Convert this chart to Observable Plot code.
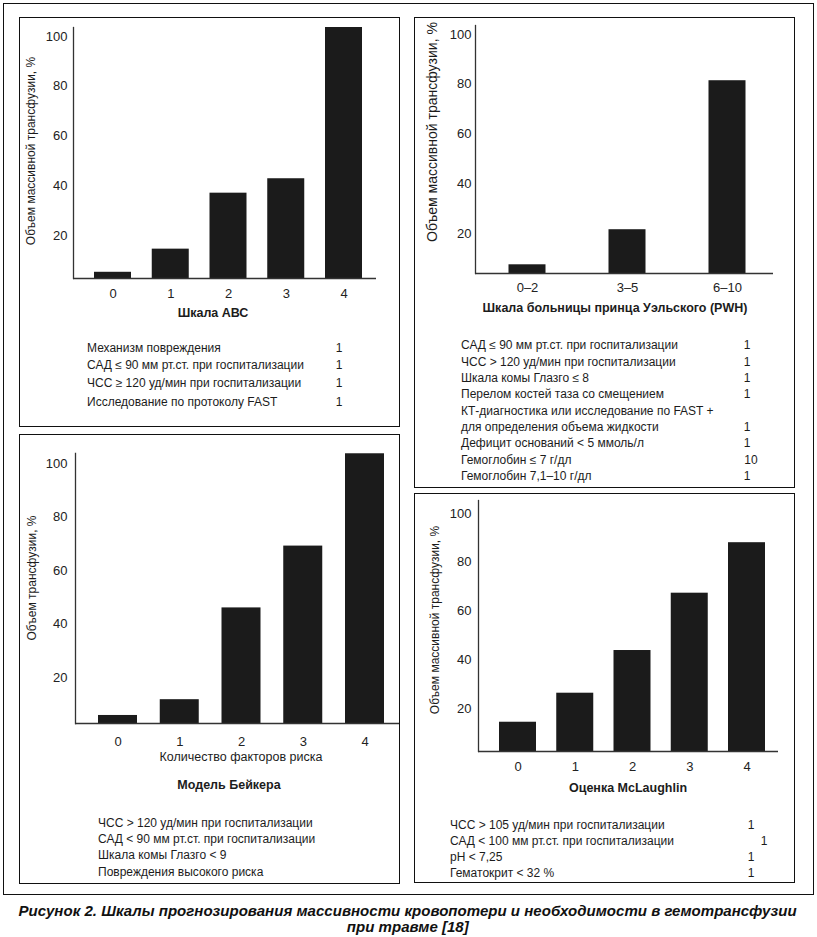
<!DOCTYPE html>
<html>
<head>
<meta charset="utf-8">
<script src="https://cdn.jsdelivr.net/npm/d3@7"></script>
<script src="https://cdn.jsdelivr.net/npm/@observablehq/plot@0.6"></script>
<style>
  html, body { margin: 0; padding: 0; background: #fff; }
  #page { position: relative; width: 817px; height: 937px; overflow: hidden;
          font-family: "Liberation Sans", Arial, sans-serif; color: #1c1c1c; }
  .box { position: absolute; border: 1.5px solid #111; box-sizing: border-box; }
  .plotwrap { position: absolute; }
  .t { position: absolute; white-space: nowrap; font-size: 12px; line-height: 1; transform: translateY(-50%); }
  .tc { position: absolute; white-space: nowrap; font-size: 12px; line-height: 1; transform: translate(-50%, -50%); }
  .b { font-weight: bold; }
  .yl { position: absolute; white-space: nowrap; font-size: 12px; line-height: 1; transform: translate(-50%, -50%) rotate(-90deg); }
  .cap { position: absolute; white-space: nowrap;
         font-family: "Liberation Sans", Arial, sans-serif;
         font-weight: bold; font-style: italic; font-size: 15.5px; line-height: 1; color: #111; }
</style>
</head>
<body>
<div id="page"></div>
<script>
// ---------- data ----------
const yTicks = [20, 40, 60, 80, 100];

const abcCategories = ["0", "1", "2", "3", "4"];
const abcValues = [5.2, 14.5, 37, 42.8, 103.6];

const pwhCategories = ["0–2", "3–5", "6–10"];
const pwhValues = [7.4, 21.5, 81.4];

const bakerCategories = ["0", "1", "2", "3", "4"];
const bakerValues = [5.8, 11.7, 46, 69.1, 103.6];

const mclCategories = ["0", "1", "2", "3", "4"];
const mclValues = [14.4, 26.3, 43.8, 67.3, 88];

const abcCriteria = ["Механизм повреждения", "САД ≤ 90 мм рт.ст. при госпитализации", "ЧСС ≥ 120 уд/мин при госпитализации", " Исследование по протоколу FAST"];
const abcPoints = ["1", "1", "1", "1"];

const pwhCriteria = ["САД ≤ 90 мм рт.ст. при госпитализации", "ЧСС > 120 уд/мин при госпитализации", "Шкала комы Глазго ≤ 8", "Перелом костей таза со смещением", "КТ-диагностика или исследование по FAST +", "для определения объема жидкости", "Дефицит оснований  < 5 ммоль/л", "Гемоглобин ≤ 7 г/дл", "Гемоглобин 7,1–10 г/дл"];
const pwhPoints = ["1", "1", "1", "1", "", "1", "1", "10", "1"];

const bakerCriteria = ["ЧСС > 120 уд/мин при госпитализации", "САД < 90 мм рт.ст. при госпитализации", "Шкала комы Глазго < 9", "Повреждения высокого риска"];

const mclCriteria = ["ЧСС > 105 уд/мин при госпитализации", "САД < 100 мм рт.ст. при госпитализации", "pH < 7,25", "Гематокрит < 32 %"];
const mclPoints = ["1", "1", "1", "1"];

const captionLines = ["Рисунок 2. Шкалы прогнозирования массивности кровопотери и необходимости в гемотрансфузии", "при травме [18]"];

// ---------- layout ----------
const FONT = '"Liberation Sans", Arial, sans-serif';
const page = document.getElementById("page");

function box(x1, y1, x2, y2) {
  const d = document.createElement("div");
  d.className = "box";
  d.style.left = x1 + "px"; d.style.top = y1 + "px";
  d.style.width = (x2 - x1) + "px"; d.style.height = (y2 - y1) + "px";
  page.appendChild(d);
}
function text(cls, str, x, y, size) {
  const d = document.createElement("div");
  d.className = cls;
  d.textContent = str;
  d.style.left = x + "px"; d.style.top = y + "px";
  if (size) d.style.fontSize = size + "px";
  page.appendChild(d);
  return d;
}

box(3, 3, 814, 895);
box(19, 17, 400, 427);
box(414, 17, 795, 488);
box(19, 434, 400, 884);
box(414, 493, 795, 883);

const panels = [
  {cats: abcCategories, vals: abcValues, svg: [20, 18, 372, 300], axisLeft: 73, axisTop: 27, baseline: 278, axisRight: 376,
   yDomain: [2.7, 103.6], c0: 112.5, step: 57.75, bw: 37, xPad: 10, yPad: 6},
  {cats: pwhCategories, vals: pwhValues, svg: [415, 18, 375, 290], axisLeft: 475, axisTop: 25, baseline: 273, axisRight: 773,
   yDomain: [3.9, 103.6], c0: 527, step: 100, bw: 37, xPad: 9, yPad: 4},
  {cats: bakerCategories, vals: bakerValues, svg: [20, 435, 379, 360], axisLeft: 75, axisTop: 453, baseline: 723, axisRight: 399,
   yDomain: [2.8, 103.7], c0: 117.5, step: 61.75, bw: 39, xPad: 13, yPad: 8},
  {cats: mclCategories, vals: mclValues, svg: [415, 494, 375, 300], axisLeft: 478, axisTop: 500, baseline: 751, axisRight: 778,
   yDomain: [2.4, 105.3], c0: 517.5, step: 57.25, bw: 37, xPad: 10, yPad: 7}
];

function drawPanel(p) {
  const [sx, sy, w, h] = p.svg;
  const pI = 1 - p.bw / p.step;
  const r0 = p.c0 - p.step / 2 - sx;
  const r1 = r0 + p.cats.length * p.step;
  const data = p.cats.map((c, i) => ({c, v: p.vals[i]}));
  const chart = Plot.plot({
    width: w, height: h,
    marginLeft: p.axisLeft - sx, marginTop: p.axisTop - sy,
    marginBottom: sy + h - p.baseline, marginRight: sx + w - p.axisRight,
    style: {background: "transparent", fontFamily: FONT, fontSize: "13px", color: "#222", overflow: "visible"},
    x: {domain: p.cats, range: [r0, r1], paddingInner: pI, paddingOuter: pI / 2, align: 0.5, round: false},
    y: {domain: p.yDomain, clamp: true},
    marks: [
      Plot.barY(data, {x: "c", y: "v", fill: "#1b1b1b"}),
      Plot.ruleY([p.yDomain[0]], {stroke: "#333", strokeWidth: 1.3}),
      Plot.frame({anchor: "left", stroke: "#333", strokeWidth: 1.3}),
      Plot.axisY(yTicks, {tickSize: 0, tickPadding: p.yPad, label: null, fontSize: 13, fill: "#222"}),
      Plot.axisX({tickSize: 0, tickPadding: p.xPad, label: null, fontSize: 13, fill: "#222"})
    ]
  });
  const wrap = document.createElement("div");
  wrap.className = "plotwrap";
  wrap.style.left = sx + "px"; wrap.style.top = sy + "px";
  wrap.appendChild(chart);
  page.appendChild(wrap);
}
panels.forEach(drawPanel);

// axis titles
text("yl", "Объем массивной трансфузии, %", 31, 151, 12);
text("yl", "Объем массивной трансфузии, %", 432, 132, 14);
text("yl", "Объем трансфузии, %", 32, 578, 12);
text("yl", "Объем массивной трансфузии, %", 435, 620, 12);

text("tc b", "Шкала АВС", 213, 313, 12.5);
text("tc b", "Шкала больницы принца Уэльского (PWH)", 615, 308, 12.5);
text("tc", "Количество факторов риска", 241, 757, 12.5);
text("tc b", "Модель Бейкера", 229, 785, 12.5);
text("tc b", "Оценка McLaughlin", 628, 788, 12.5);

// criteria tables
const abcRows = [348, 365, 383, 402];
abcCriteria.forEach((s, i) => { text("t", s, 87, abcRows[i]); text("tc", abcPoints[i], 339, abcRows[i]); });

const pwhRows = [345, 362, 378, 394, 411, 427, 443, 460, 476];
pwhCriteria.forEach((s, i) => { text("t", s, 461, pwhRows[i]); if (pwhPoints[i]) text("tc", pwhPoints[i], pwhPoints[i].length > 1 ? 751 : 747, pwhRows[i]); });

const bakerRows = [823, 839, 855, 872];
bakerCriteria.forEach((s, i) => text("t", s, 98, bakerRows[i]));

const mclRows = [825, 841, 857, 873];
const mclPointX = [751, 764, 751, 751];
mclCriteria.forEach((s, i) => { text("t", s, 450, mclRows[i]); text("tc", mclPoints[i], mclPointX[i], mclRows[i]); });

// caption: fitted to the reference's width with a horizontal scale
const capCenterX = 408, capWidth = 778;
const caps = [text("cap", captionLines[0], 0, 903), text("cap", captionLines[1], 0, 919)];
const sc = capWidth / caps[0].getBoundingClientRect().width;
caps.forEach(c => {
  const w = c.getBoundingClientRect().width;
  c.style.left = (capCenterX - w / 2) + "px";
  c.style.transformOrigin = "50% 50%";
  c.style.transform = "scaleX(" + sc + ")";
});
</script>
</body>
</html>
